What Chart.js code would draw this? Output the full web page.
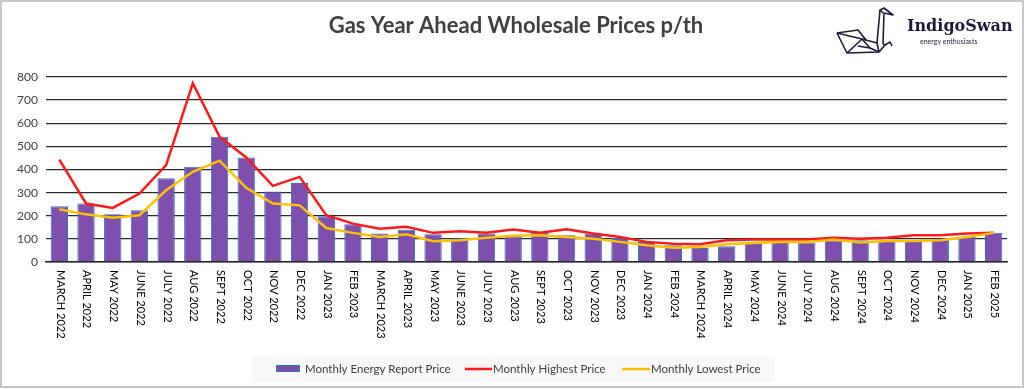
<!DOCTYPE html>
<html>
<head>
<meta charset="utf-8">
<script src="https://cdn.jsdelivr.net/npm/chart.js@4.4.1/dist/chart.umd.min.js"></script>
<style>
html,body{margin:0;padding:0;background:#fff;}
#wrap{width:1025px;height:389px;position:relative;}
canvas{display:block;}
</style>
</head>
<body>
<div id="wrap"><canvas id="c" width="1025" height="389"></canvas></div>
<script>
const chartTitle = 'Gas Year Ahead Wholesale Prices p/th';
const months = ['MARCH 2022','APRIL 2022','MAY 2022','JUNE 2022','JULY 2022','AUG 2022','SEPT 2022','OCT 2022','NOV 2022','DEC 2022','JAN 2023','FEB 2023','MARCH 2023','APRIL 2023','MAY 2023','JUNE 2023','JULY 2023','AUG 2023','SEPT 2023','OCT 2023','NOV 2023','DEC 2023','JAN 2024','FEB 2024','MARCH 2024','APRIL 2024','MAY 2024','JUNE 2024','JULY 2024','AUG 2024','SEPT 2024','OCT 2024','NOV 2024','DEC 2024','JAN 2025','FEB 2025'];
const reportPrice  = [241,253,206,224,362,412,542,452,305,342,198,163,123,140,120,103,123,111,126,116,123,104,87,72,61,68,84,87,84,94,94,91,91,98,108,126];
const highestPrice = [443,253,234,296,419,773,542,452,329,368,202,166,144,152,126,133,126,140,126,142,123,108,87,79,77,94,97,97,97,105,101,105,116,116,123,126];
const lowestPrice  = [228,206,191,202,310,390,438,321,253,245,147,126,108,120,90,94,105,113,116,108,101,87,72,62,65,77,82,87,87,97,84,91,91,94,108,126];
const yMin = 0, yMax = 800, yStep = 100;
const seriesNames = ['Monthly Energy Report Price','Monthly Highest Price','Monthly Lowest Price'];
const logoName = 'IndigoSwan';
const logoTag = 'energy enthusiasts';

const FONT = "Lato, 'Open Sans', sans-serif";

const decorPlugin = {
  id: 'decor',
  beforeDraw(chart) {
    const ctx = chart.ctx;
    ctx.save();
    ctx.fillStyle = '#ffffff';
    ctx.fillRect(0, 0, chart.width, chart.height);
    ctx.fillStyle = '#f8f8f8';
    ctx.fillRect(252, 357, 523, 25);
    ctx.restore();
  },
  afterDraw(chart) {
    const ctx = chart.ctx;
    const xs = chart.scales.x;
    ctx.save();
    ctx.fillStyle = '#000000';
    ctx.font = "11px " + FONT;
    ctx.textAlign = 'left';
    ctx.textBaseline = 'middle';
    chart.data.labels.forEach((lab, i) => {
      const x = xs.getPixelForTick(i);
      ctx.save();
      ctx.translate(x + 1, xs.top + 8);
      ctx.rotate(Math.PI / 2);
      ctx.fillText(lab, 0, 0);
      ctx.restore();
    });
    ctx.fillStyle = '#404040';
    ctx.font = "bold 22px " + FONT;
    ctx.textAlign = 'center';
    ctx.textBaseline = 'alphabetic';
    ctx.fillText(chartTitle, 516, 33);
    const ds = chart.data.datasets;
    ctx.font = "11.5px " + FONT;
    ctx.textAlign = 'left';
    ctx.textBaseline = 'middle';
    ctx.fillStyle = ds[0].backgroundColor;
    ctx.fillRect(276, 365, 24, 7);
    ctx.strokeStyle = ds[0].borderColor;
    ctx.lineWidth = 1;
    ctx.strokeRect(276.5, 365.5, 23, 6);
    ctx.fillStyle = '#404040';
    ctx.fillText(ds[0].label, 305, 369);
    ctx.strokeStyle = ds[1].borderColor;
    ctx.lineWidth = 2.5;
    ctx.beginPath(); ctx.moveTo(465, 369); ctx.lineTo(492, 369); ctx.stroke();
    ctx.fillText(ds[1].label, 493, 369);
    ctx.strokeStyle = ds[2].borderColor;
    ctx.beginPath(); ctx.moveTo(622, 369); ctx.lineTo(650, 369); ctx.stroke();
    ctx.fillText(ds[2].label, 651, 369);
    ctx.strokeStyle = '#1c1c3a';
    ctx.lineWidth = 1.6;
    ctx.lineJoin = 'round';
    const poly = (pts) => { ctx.beginPath(); ctx.moveTo(pts[0][0], pts[0][1]); for (let k = 1; k < pts.length; k++) ctx.lineTo(pts[k][0], pts[k][1]); ctx.stroke(); };
    poly([[877,43],[880,10],[884,8],[893,15],[884,13],[883,44]]);
    poly([[880,10],[883,13]]);
    poly([[837,33],[847,53],[879,52],[885,45],[883,44]]);
    poly([[837,33],[862,39],[870,48]]);
    poly([[837,33],[858,30],[866,40]]);
    poly([[847,53],[862,39],[877,43],[879,52]]);
    poly([[858,46],[870,48],[879,52]]);
    poly([[885,45],[890,42],[892,46]]);
    ctx.fillStyle = '#1c1c3a';
    ctx.textBaseline = 'alphabetic';
    ctx.font = "bold 16px 'DejaVu Serif', serif";
    ctx.fillText(logoName, 907, 31);
    ctx.font = "7px " + FONT;
    ctx.fillText(logoTag, 920, 44);
    ctx.strokeStyle = '#c6c6c6';
    ctx.lineWidth = 2;
    ctx.strokeRect(1, 1, 1022, 386);
    ctx.restore();
  }
};

new Chart(document.getElementById('c'), {
  type: 'bar',
  data: {
    labels: months,
    datasets: [
      {
        type: 'bar', label: seriesNames[0], data: reportPrice,
        backgroundColor: '#7f4fb0', borderColor: '#2e75b6', borderWidth: 1,
        barPercentage: 0.65, categoryPercentage: 1, order: 2
      },
      {
        type: 'line', label: seriesNames[1], data: highestPrice,
        borderColor: '#ff1a1a', backgroundColor: '#ff1a1a', borderWidth: 2.5,
        pointRadius: 0, tension: 0, order: 1
      },
      {
        type: 'line', label: seriesNames[2], data: lowestPrice,
        borderColor: '#ffc000', backgroundColor: '#ffc000', borderWidth: 2.5,
        pointRadius: 0, tension: 0, order: 0
      }
    ]
  },
  options: {
    responsive: false,
    animation: false,
    devicePixelRatio: 1,
    layout: { padding: { top: 77, left: 0, right: 18, bottom: 0 } },
    plugins: { legend: { display: false }, title: { display: false }, tooltip: { enabled: false } },
    scales: {
      x: {
        grid: { display: false },
        border: { display: true, color: '#262626', width: 1.5 },
        ticks: { display: false },
        afterFit(scale) { scale.height = 127; }
      },
      y: {
        min: yMin, max: yMax,
        ticks: { stepSize: yStep, color: '#404040', font: { family: FONT, size: 12 }, padding: 8 },
        grid: { color: '#2a2a2a', lineWidth: 1.3, drawTicks: false },
        border: { display: false },
        afterFit(scale) { scale.width = 46; }
      }
    }
  },
  plugins: [decorPlugin]
});
</script>
</body>
</html>
